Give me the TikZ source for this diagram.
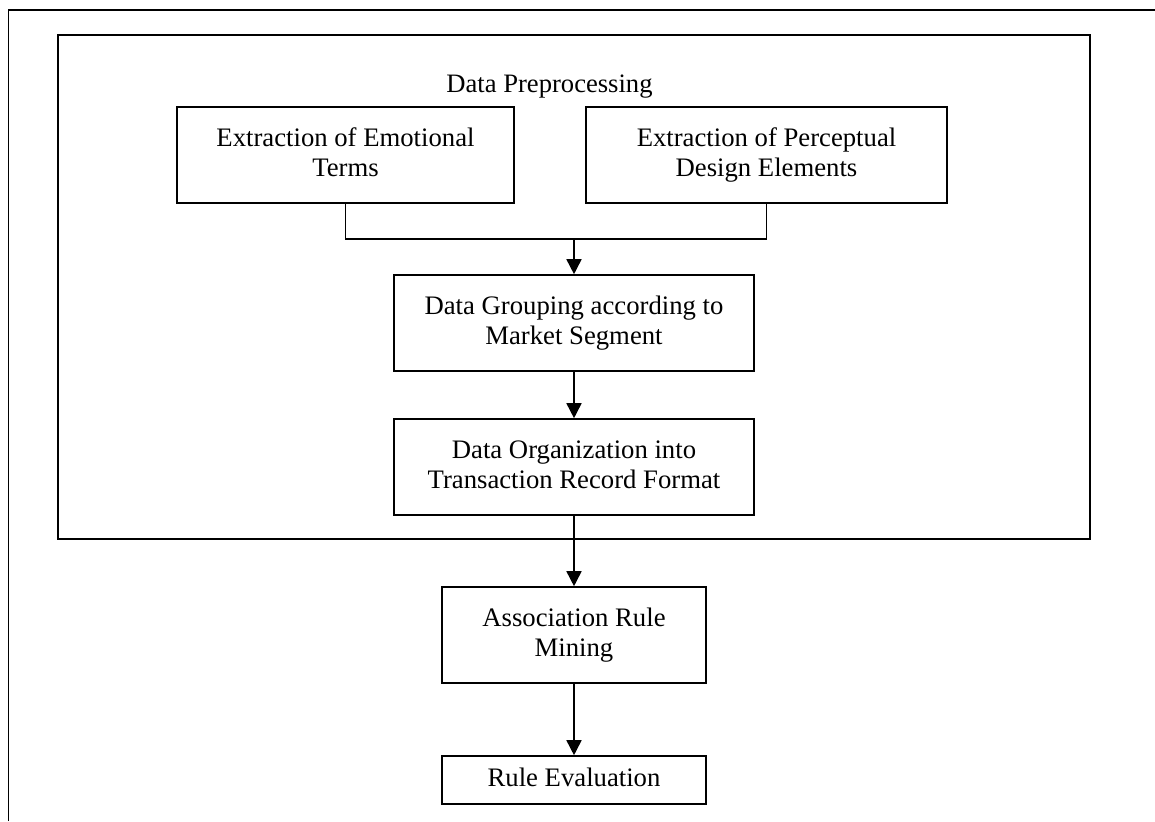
\documentclass[tikz,border=0pt]{standalone}
\usepackage{fontspec}
\setmainfont{Liberation Serif}
\usetikzlibrary{arrows.meta}
\tikzset{
  stage/.style={draw, line width=1.6pt, inner sep=0pt, align=center,
    font=\fontsize{26.7}{30}\selectfont},
  flow/.style={line width=1.6pt, -{Triangle[width=15pt,length=15pt]}},
  link/.style={line width=1.6pt},
}
\begin{document}
\begin{tikzpicture}[x=1pt,y=-1pt]
  \useasboundingbox (0,0) rectangle (1155,821);
  % page frame (left and top edges)
  \draw[line width=1.6pt] (8.5,821) -- (8.5,10) -- (1155,10);
  % preprocessing group
  \node[draw, line width=1.6pt, minimum width=1032pt, minimum height=504pt, inner sep=0pt] (pre) at (574,287) {};
  \node[anchor=base, inner sep=0pt, font=\fontsize{26.6}{30}\selectfont] (title) at (549.5,93) {Data Preprocessing};
  % stages
  \node[stage, minimum width=337pt, minimum height=96pt] (emo) at (345.5,155) {\strut Extraction of Emotional\\\strut Terms};
  \node[stage, minimum width=361pt, minimum height=96pt] (per) at (766.5,155) {\strut Extraction of Perceptual\\\strut Design Elements};
  \node[stage, minimum width=360pt, minimum height=96pt] (grp) at (574,323) {\strut Data Grouping according to\\\strut Market Segment};
  \node[stage, minimum width=360pt, minimum height=96pt] (org) at (574,467) {\strut Data Organization into\\\strut Transaction Record Format};
  \node[stage, minimum width=264pt, minimum height=96pt] (asc) at (574,635) {\strut Association Rule\\\strut Mining};
  \node[stage, minimum width=264pt, minimum height=48pt] (evl) at (574,780) {\strut Rule Evaluation};
  % connectors
  \coordinate (j) at (574,239);
  \draw[link] (emo.south) |- (j) -| (per.south);
  \draw[flow] (j) -- (grp.north);
  \draw[flow] (grp.south) -- (org.north);
  \draw[flow] (org.south) -- (asc.north);
  \draw[flow] (asc.south) -- (evl.north);
\end{tikzpicture}
\end{document}
